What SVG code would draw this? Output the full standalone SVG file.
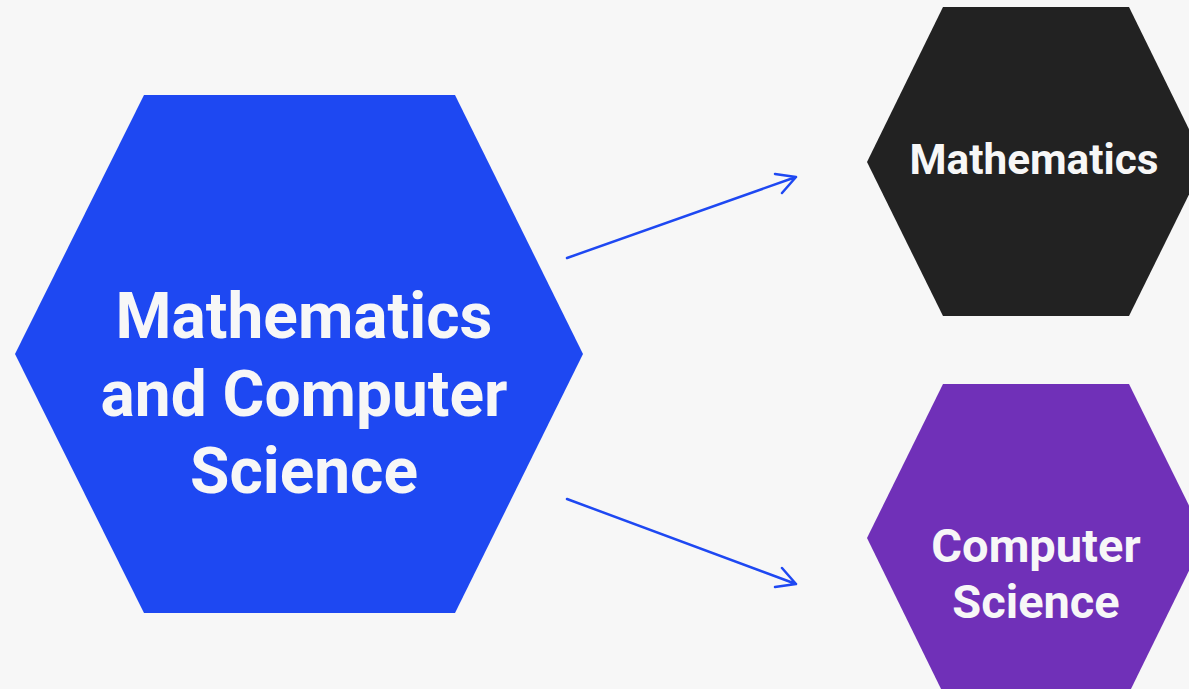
<svg xmlns="http://www.w3.org/2000/svg" width="1189" height="689" viewBox="0 0 1189 689">
  <style>
    .label { font-family: Roboto, "Liberation Sans", sans-serif; font-weight: 700; fill: #f7f7f7; text-anchor: middle; }
    .big { font-size: 64px; }
    .math { font-size: 42.3px; }
    .cs { font-size: 47px; }
    .link { stroke: #1e48f2; stroke-width: 2.5; fill: none; stroke-linecap: round; stroke-linejoin: round; }
  </style>
  <rect width="1189" height="689" fill="#f7f7f7"/>

  <g id="node-math-cs">
    <polygon points="144,95 455,95 583,354 455,613 144,613 15,354" fill="#1e48f2"/>
    <text class="label big" x="304" y="338">Mathematics</text>
    <text class="label big" x="304" y="416">and Computer</text>
    <text class="label big" x="304" y="493">Science</text>
  </g>

  <g id="node-math">
    <polygon points="943,7 1129,7 1205,162 1129,316 943,316 867,162" fill="#222222"/>
    <text class="label math" x="1034" y="174">Mathematics</text>
  </g>

  <g id="node-cs">
    <polygon points="943,384 1129,384 1205,538 1129,693 943,693 867,538" fill="#7030b8"/>
    <text class="label cs" x="1036" y="562">Computer</text>
    <text class="label cs" x="1036" y="618">Science</text>
  </g>

  <g id="connectors">
    <path class="link" d="M567,258 L796,177 M775,174 L796,177 L782,193"/>
    <path class="link" d="M567,499 L796,584 M782,568 L796,584 L775,587"/>
  </g>
</svg>
